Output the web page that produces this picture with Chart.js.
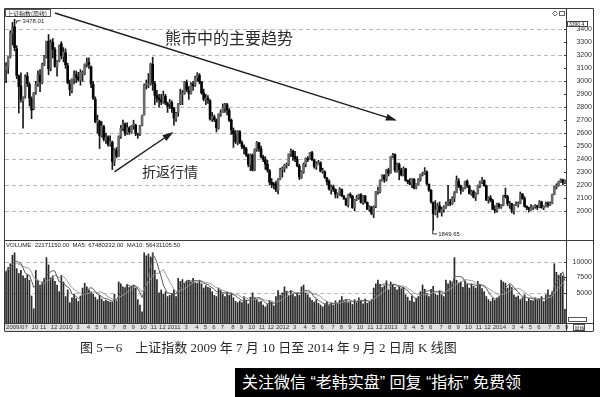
<!DOCTYPE html>
<html>
<head>
<meta charset="utf-8">
<script src="https://cdn.jsdelivr.net/npm/chart.js@4.4.1/dist/chart.umd.min.js"></script>
<style>
  body { margin: 0; background: #fff; width: 600px; height: 397px; overflow: hidden; position: relative; }
  #price { position: absolute; left: 0; top: 0; }
  #vol { position: absolute; left: 0; top: 230px; }
  #caption { position: absolute; left: 80px; top: 340px; font: 13px "Liberation Serif", "Noto Sans CJK SC"; color: #2a2a2a; white-space: nowrap; line-height: 16px; }
  #mark { position: absolute; left: 235px; top: 368px; width: 365px; height: 29px; background: #000; color: #fff;
          font: 16px "Liberation Sans", "Noto Sans CJK SC"; line-height: 29px; padding-left: 7px; box-sizing: border-box; white-space: nowrap; overflow: hidden; }
</style>
</head>
<body>
<canvas id="price" width="600" height="250"></canvas>
<canvas id="vol" width="600" height="102"></canvas>
<div id="caption">图 5－6&emsp;上证指数 2009 年 7 月 10 日至 2014 年 9 月 2 日周 K 线图</div>
<div id="mark">关注微信 “老韩实盘” 回复 “指标” 免费领</div>
<script>
// weekly candles, 2009-07-10 .. 2014-09-02
const opens = [
  3090,3110,3190,3370,3420,3250,3040,2965,2850,2885, 3040,2975,2865,2790,2915,2980,3050,2990,3130,3190,
  3310,3100,3300,3245,3110,3155,3290,3190,3220,3120, 2980,2930,3020,3050,3030,3010,3060,3060,3130,3145,
  3110,2975,2860,2680,2690,2580,2650,2550,2570,2510, 2530,2380,2470,2420,2575,2640,2670,2600,2640,2610,
  2660,2660,2595,2590,2660,2740,2975,2970,2980,3130, 2980,2890,2870,2855,2840,2885,2830,2825,2835,2790,
  2710,2760,2830,2900,2910,2990,2930,2905,2980,2970, 3030,3045,2995,2910,2860,2870,2850,2710,2725,2700,
  2640,2745,2760,2795,2820,2775,2700,2620,2590,2530, 2610,2525,2495,2480,2430,2360,2430,2315,2475,2525,
  2480,2415,2395,2360,2310,2220,2200,2210,2160,2245, 2320,2330,2350,2360,2440,2460,2420,2400,2345,2260,
  2300,2360,2405,2400,2450,2390,2340,2365,2370,2305, 2300,2255,2230,2165,2185,2165,2125,2130,2165,2110,
  2090,2045,2125,2115,2025,2090,2105,2125,2065,2115, 2065,2015,2030,1975,2035,2150,2150,2235,2275,2245,
  2315,2295,2420,2435,2310,2360,2315,2275,2325,2235, 2220,2205,2245,2175,2205,2245,2280,2285,2300,2205,
  2160,2065,1980,2000,2040,1990,2010,2030,2055,2065, 2055,2100,2140,2230,2190,2160,2175,2230,2190,2130,
  2150,2105,2135,2195,2220,2235,2195,2085,2100,2080, 2010,2005,2050,2030,2045,2115,2110,2050,2055,2000,
  2045,2045,2060,2130,2095,2035,2025,2010,2025,2035, 2040,2030,2070,2025,2035,2060,2045,2060,2130,2185,
  2195,2225,2240,2220
];
const highs = [
  3145,3190,3390,3454,3478.01,3275,3050,3065,2880,3050, 3068,2990,2880,2915,3000,3080,3090,3140,3200,3310,
  3361,3320,3330,3260,3160,3280,3306,3260,3250,3140, 3010,3020,3080,3080,3070,3090,3080,3135,3180,3181,
  3120,3000,2880,2740,2700,2690,2660,2600,2580,2580, 2540,2480,2490,2580,2660,2700,2680,2680,2650,2660,
  2700,2670,2600,2660,2740,2980,3010,3060,3140,3186, 3000,2930,2900,2900,2925,2900,2840,2860,2850,2800,
  2760,2830,2940,2930,3000,3010,2960,2990,3000,3040, 3067,3060,3000,2940,2900,2890,2860,2760,2740,2710,
  2750,2780,2826,2830,2830,2790,2710,2640,2620,2620, 2620,2540,2510,2490,2440,2440,2440,2480,2536,2530,
  2500,2430,2420,2390,2320,2250,2220,2230,2250,2330, 2340,2360,2370,2440,2478,2470,2460,2420,2360,2310,
  2370,2410,2420,2453,2460,2400,2380,2390,2380,2330, 2310,2260,2240,2200,2200,2170,2140,2180,2170,2120,
  2100,2130,2140,2120,2090,2120,2130,2135,2120,2120, 2070,2040,2035,2040,2150,2185,2240,2280,2280,2320,
  2330,2420,2444,2440,2370,2370,2330,2340,2330,2240, 2250,2250,2250,2210,2250,2285,2300,2335,2310,2210,
  2165,2070,2080,2060,2070,2030,2040,2070,2198,2090, 2110,2150,2270,2250,2200,2180,2230,2240,2200,2160,
  2160,2140,2200,2230,2260,2240,2200,2110,2120,2090, 2040,2060,2060,2050,2120,2177,2120,2075,2060,2050,
  2070,2070,2146,2135,2110,2040,2030,2050,2040,2050, 2045,2080,2075,2040,2070,2070,2070,2130,2190,2210,
  2230,2248,2245,2240
];
const lows = [
  2990,3060,3180,3280,3235,3020,2755,2840,2639,2870, 2960,2810,2712,2780,2900,2960,2920,2980,3120,3180,
  3050,3080,3180,3110,3039,3150,3172,3150,3100,2980, 2890,2910,2980,2990,3000,2970,3000,3050,3110,3100,
  2950,2860,2680,2600,2481,2570,2540,2520,2500,2500, 2319,2350,2410,2420,2560,2620,2580,2590,2590,2600,
  2630,2580,2560,2580,2655,2740,2940,2950,2970,2930, 2820,2840,2800,2820,2830,2820,2760,2790,2760,2661,
  2690,2730,2820,2820,2900,2920,2860,2900,2930,2960, 3000,2980,2900,2850,2820,2830,2700,2690,2690,2610,
  2630,2730,2760,2760,2740,2690,2590,2490,2520,2510, 2520,2480,2440,2420,2340,2310,2307,2310,2460,2460,
  2410,2380,2320,2300,2200,2180,2170,2148,2132,2240, 2260,2300,2330,2350,2420,2390,2380,2340,2242,2250,
  2290,2340,2380,2400,2390,2330,2320,2360,2300,2290, 2250,2200,2160,2130,2150,2100,2100,2120,2110,2090,
  2040,2030,2100,2020,2000,2080,2090,2060,2050,2060, 2010,1995,1970,1949,2025,2130,2140,2230,2220,2230,
  2270,2290,2410,2300,2300,2240,2270,2270,2230,2210, 2200,2180,2170,2170,2200,2230,2270,2280,2200,2150,
  2060,1849.65,1970,1950,1990,1960,1990,2020,2040,2040, 2050,2070,2140,2180,2130,2150,2170,2180,2130,2120,
  2100,2080,2130,2180,2210,2190,2080,2060,2070,2010, 1985,1990,2020,2020,2040,2100,2040,2020,1985,1975,
  2040,2030,2055,2090,2030,2010,1991,2005,2010,2020, 2010,2025,2020,2010,2030,2030,2040,2055,2125,2170,
  2190,2220,2200,2210
];
const closes = [
  3113,3189,3372,3412,3260,3046,2960,2861,2880,3033, 2981,2870,2779,2911,2975,3050,2995,3130,3187,3308,
  3096,3300,3247,3114,3153,3277,3196,3224,3128,2989, 2935,3018,3051,3031,3013,3068,3060,3130,3143,3130,
  2980,2870,2688,2697,2583,2655,2553,2569,2514,2535, 2382,2470,2424,2573,2637,2672,2598,2642,2611,2655,
  2663,2598,2588,2655,2738,2971,2975,2979,3129,2985, 2891,2871,2858,2842,2885,2833,2808,2838,2791,2715,
  2752,2827,2899,2905,2993,2937,2906,2977,2967,3030, 3050,2999,2911,2863,2871,2858,2709,2728,2705,2642,
  2746,2759,2797,2820,2778,2701,2626,2593,2534,2612, 2528,2497,2483,2433,2359,2431,2317,2473,2528,2481,
  2417,2397,2361,2315,2224,2204,2199,2163,2244,2319, 2330,2351,2357,2439,2461,2420,2404,2349,2263,2303,
  2359,2406,2396,2452,2394,2344,2365,2373,2306,2306, 2260,2225,2170,2185,2168,2128,2132,2168,2115,2092,
  2047,2127,2120,2026,2086,2104,2128,2066,2117,2069, 2015,2031,1980,2033,2150,2153,2233,2276,2243,2317,
  2292,2419,2432,2314,2359,2318,2278,2328,2236,2225, 2206,2245,2177,2205,2247,2283,2288,2301,2211,2162,
  2073,1979,2007,2039,1992,2010,2029,2052,2068,2057, 2098,2139,2236,2191,2161,2174,2228,2193,2133,2149,
  2106,2135,2197,2220,2238,2196,2084,2102,2083,2013, 2004,2054,2033,2044,2115,2113,2056,2057,2004,2047,
  2046,2058,2130,2097,2036,2026,2011,2026,2034,2039, 2029,2070,2025,2036,2059,2047,2059,2126,2185,2194,
  2226,2240,2217,2235
];
const volumes = [
  8500,9200,9800,11200,11600,9000,8200,8700,7800,7400, 8000,7100,4500,2400,8700,7100,6300,6800,7400,10800,
  9600,7500,7800,6900,6300,5200,7900,6800,4400,5500, 3400,4200,4800,4100,3600,4500,5800,6600,6000,5500,
  5200,4800,4300,3900,4600,4000,3600,3800,3600,3500, 3500,4800,3700,6800,6500,6000,5800,6400,5900,6100,
  6300,5800,3900,3000,1900,11600,11100,11400,10900,11600, 8700,7200,5000,5500,4800,5200,4400,4600,4900,5500,
  4400,7400,6900,7200,6600,6900,7100,6800,7400,6700, 6600,7100,6500,5800,6200,5900,5800,5200,4600,4400,
  5800,5400,4800,4400,5000,4600,5000,4200,3600,3400, 3700,3400,4400,3800,3200,4300,5000,4200,3900,3500,
  3600,3000,2700,3100,3800,3500,2900,4400,5400,4600, 5000,6000,5200,4600,5400,4800,4400,5000,4600,6000,
  6300,5000,4700,4200,3800,3500,3900,3300,3000,2700, 3100,3600,2900,3400,3000,3700,3300,3800,4400,3600,
  3900,3400,3600,3100,3900,3400,4200,3700,3200,4000, 3300,3500,3900,5800,6500,7100,6400,5900,6200,7000,
  5500,6800,6400,5900,5500,6000,5700,5900,4700,4300, 3700,4500,3500,4100,4400,5200,6300,5600,4900,4400,
  5600,6100,4800,4600,5300,4700,4400,7100,6500,7000, 6800,10800,7100,6600,6800,5900,7000,6400,5800,6500,
  6100,5800,6900,6400,5700,5200,4400,3900,3600,4100, 3800,4200,4400,7100,6800,6600,5800,6300,5900,4700,
  4300,4500,3900,4200,4700,3600,4100,3800,3700,4200, 3800,4000,4400,3600,4700,5500,4600,5200,9800,8400,
  7900,8200,7800,2300
];
const priceGridLines = [2000, 2200, 2400, 2600, 2800, 3000, 3200, 3400];
const volumeTicks = [5000, 7500, 10000];
const volumeGridLines = [5000, 10000];

// week dates spread between the first and last bar
const firstDay = new Date(2009, 6, 10), lastDay = new Date(2014, 8, 2);
const weekLabels = closes.map((c, i) => {
  const d = new Date(firstDay.getTime() + (lastDay - firstDay) * i / (closes.length - 1));
  return d.getFullYear() + "/" + String(d.getMonth() + 1).padStart(2, "0");
});

function movingAvg (vals, n) {
  return vals.map((v, i) => {
    const part = vals.slice(Math.max(0, i - n + 1), i + 1);
    return part.reduce((s, x) => s + x, 0) / part.length;
  });
}

const CJK = '"Noto Sans CJK SC"';

function hline (ctx, x1, x2, y) { ctx.beginPath(); ctx.moveTo(x1, y); ctx.lineTo(x2, y); ctx.stroke(); }
function vline (ctx, x, y1, y2) { ctx.beginPath(); ctx.moveTo(x, y1); ctx.lineTo(x, y2); ctx.stroke(); }

function arrow (ctx, x1, y1, x2, y2) {
  ctx.beginPath(); ctx.moveTo(x1, y1); ctx.lineTo(x2, y2); ctx.stroke();
  const a = Math.atan2(y2 - y1, x2 - x1), len = 9, w = 3.5;
  ctx.beginPath();
  ctx.moveTo(x2 + 2 * Math.cos(a), y2 + 2 * Math.sin(a));
  ctx.lineTo(x2 - len * Math.cos(a) + w * Math.sin(a), y2 - len * Math.sin(a) - w * Math.cos(a));
  ctx.lineTo(x2 - len * Math.cos(a) - w * Math.sin(a), y2 - len * Math.sin(a) + w * Math.cos(a));
  ctx.closePath(); ctx.fill();
}

const priceDecor = {
  id: "priceDecor",
  beforeDatasetsDraw (chart) {
    const { ctx, chartArea: a, scales: { y } } = chart;
    ctx.save();
    ctx.strokeStyle = "#b8b8b8"; ctx.lineWidth = 1; ctx.setLineDash([4, 3]);
    priceGridLines.forEach(v => hline(ctx, a.left, a.right, Math.round(y.getPixelForValue(v)) + 0.5));
    ctx.restore();
  },
  afterDraw (chart) {
    const { ctx, chartArea: a, scales: { x, y } } = chart;
    ctx.save();
    // frame
    ctx.strokeStyle = "#3a3a3a"; ctx.lineWidth = 1;
    hline(ctx, 4.5, 593.5, 8.5);
    hline(ctx, 4.5, 593.5, a.bottom + 0.5);
    vline(ctx, 4.5, 8.5, a.bottom);
    vline(ctx, a.right + 0.5, 8.5, a.bottom);
    vline(ctx, 593.5, 8.5, a.bottom);
    y.ticks.forEach(t => hline(ctx, a.right - 2, a.right, Math.round(y.getPixelForValue(t.value)) + 0.5));

    // title box
    ctx.fillStyle = "#fff"; ctx.fillRect(5, 9, 46, 8);
    ctx.strokeStyle = "#555"; ctx.strokeRect(5.5, 9.5, 45, 7);
    ctx.fillStyle = "#222"; ctx.font = "6px " + CJK; ctx.textBaseline = "middle";
    ctx.fillText("上证指数(周线)", 7, 13.5);

    // right header box
    ctx.fillStyle = "#fff"; ctx.fillRect(567, 21, 21, 6);
    ctx.strokeStyle = "#444"; ctx.strokeRect(567.5, 21.5, 20, 5);
    ctx.fillStyle = "#222"; ctx.font = "5px Liberation Sans";
    ctx.fillText("3390.4", 569, 24.5);

    // small icons
    ctx.strokeStyle = "#666";
    ctx.beginPath(); ctx.moveTo(555, 11); ctx.lineTo(557.5, 13.5); ctx.lineTo(555, 16); ctx.lineTo(552.5, 13.5); ctx.closePath(); ctx.stroke();
    ctx.strokeRect(559.5, 11.5, 5, 4);

    // extreme labels
    const hi = highs.indexOf(Math.max(...highs));
    const lo = lows.indexOf(Math.min(...lows));
    ctx.strokeStyle = "#333"; ctx.fillStyle = "#222"; ctx.font = "6px Liberation Sans";
    let px = x.getPixelForValue(hi), py = y.getPixelForValue(highs[hi]);
    ctx.beginPath(); ctx.moveTo(px + 2, py + 4); ctx.lineTo(px + 2, py + 1.5); ctx.lineTo(px + 6, py + 1.5); ctx.stroke();
    ctx.fillText(highs[hi].toFixed(2), px + 8, py + 2);
    px = x.getPixelForValue(lo); py = y.getPixelForValue(lows[lo]);
    ctx.beginPath(); ctx.moveTo(px - 0.5, py); ctx.lineTo(px - 0.5, py + 3.5); ctx.lineTo(px + 4, py + 3.5); ctx.stroke();
    ctx.fillText(lows[lo].toFixed(2), px + 5, py + 4);

    // annotations
    ctx.strokeStyle = "#1e1e1e"; ctx.fillStyle = "#1e1e1e"; ctx.lineWidth = 1.4;
    arrow(ctx, x.getPixelForValue(23), y.getPixelForValue(3527), x.getPixelForValue(183), y.getPixelForValue(2702));
    arrow(ctx, x.getPixelForValue(51), y.getPixelForValue(2301), x.getPixelForValue(78), y.getPixelForValue(2601));
    ctx.fillStyle = "#2a2a2a"; ctx.font = "16px " + CJK;
    ctx.fillText("熊市中的主要趋势", 165, 38);
    ctx.font = "14px " + CJK;
    ctx.fillText("折返行情", 142, 172);
    ctx.restore();
  }
};

const volDecor = {
  id: "volDecor",
  beforeDraw (chart) {
    const { ctx, chartArea: a } = chart;
    ctx.save();
    ctx.fillStyle = "#e2e2e2";
    ctx.fillRect(a.left, a.bottom, a.right - a.left, 8);
    ctx.restore();
  },
  beforeDatasetsDraw (chart) {
    const { ctx, chartArea: a, scales: { y } } = chart;
    ctx.save();
    ctx.strokeStyle = "#b8b8b8"; ctx.lineWidth = 1; ctx.setLineDash([4, 3]);
    volumeGridLines.forEach(v => hline(ctx, a.left, a.right, Math.round(y.getPixelForValue(v)) + 0.5));
    ctx.restore();
  },
  afterDraw (chart) {
    const { ctx, chartArea: a, scales: { y } } = chart;
    ctx.save();
    ctx.strokeStyle = "#3a3a3a"; ctx.lineWidth = 1;
    vline(ctx, 4.5, a.top, a.bottom + 8);
    vline(ctx, a.right + 0.5, a.top, a.bottom + 8);
    vline(ctx, 593.5, a.top, a.bottom + 8);
    hline(ctx, 4.5, 593.5, a.bottom + 0.5);
    hline(ctx, 4.5, 593.5, a.bottom + 8.5);
    y.ticks.forEach(t => hline(ctx, a.right - 2, a.right, Math.round(y.getPixelForValue(t.value)) + 0.5));

    ctx.fillStyle = "#222"; ctx.font = "6px Liberation Sans"; ctx.textBaseline = "middle";
    ctx.fillText("VOLUME: 22171150.00  MA5: 67480232.00  MA10: 56431105.50", 6, a.top + 5);

    // bottom right boxes
    ctx.strokeStyle = "#555";
    ctx.fillStyle = "#fff"; ctx.fillRect(568, a.bottom - 6, 19, 5);
    ctx.strokeRect(568.5, a.bottom - 5.5, 18, 4);
    ctx.fillRect(573, a.bottom + 1, 12, 7);
    ctx.strokeRect(573.5, a.bottom + 1.5, 11, 6);
    ctx.fillStyle = "#222"; ctx.font = "5px " + CJK;
    ctx.fillText("周线", 574.5, a.bottom + 4.8);
    ctx.restore();
  }
};

new Chart(document.getElementById("price"), {
  type: "bar",
  data: {
    labels: weekLabels,
    datasets: [
      {
        data: lows.map((l, i) => [l, highs[i]]),
        backgroundColor: "#1a1a1a",
        barThickness: 1,
        grouped: false,
        order: 2
      },
      {
        data: opens.map((o, i) => [o, closes[i]]),
        backgroundColor: opens.map((o, i) => closes[i] >= o ? "#6a6a6a" : "#050505"),
        barThickness: 2,
        minBarLength: 1,
        grouped: false,
        order: 1
      }
    ]
  },
  options: {
    responsive: false,
    animation: false,
    events: [],
    layout: { padding: { left: 5, top: 10, right: 8, bottom: 10 } },
    plugins: { legend: { display: false }, tooltip: { enabled: false } },
    scales: {
      x: { display: false },
      y: {
        position: "right",
        min: 1776,
        max: 3550,
        afterFit (s) { s.width = 26; s.paddingTop = 0; s.paddingBottom = 0; },
        afterBuildTicks (s) { s.ticks = s.ticks.filter(t => t.value % 100 === 0 && t.value >= 2000 && t.value <= 3400); },
        ticks: {
          stepSize: 100,
          crossAlign: "far",
          padding: 4,
          color: "#333",
          font: { size: 7, family: "Liberation Sans" },
          callback: v => String(v)
        },
        grid: { display: false, drawTicks: false },
        border: { display: false }
      }
    }
  },
  plugins: [priceDecor]
});

new Chart(document.getElementById("vol"), {
  type: "bar",
  data: {
    labels: weekLabels,
    datasets: [
      { type: "line", data: movingAvg(volumes, 5), borderColor: "#5a5a5a", borderWidth: 1, pointRadius: 0, order: 0 },
      { type: "line", data: movingAvg(volumes, 10), borderColor: "#9a9a9a", borderWidth: 1, pointRadius: 0, order: 0 },
      { data: volumes, backgroundColor: "#2a2a2a", barPercentage: 0.8, categoryPercentage: 1, order: 1 }
    ]
  },
  options: {
    responsive: false,
    animation: false,
    events: [],
    layout: { padding: { left: 5, top: 10, right: 8, bottom: 0 } },
    plugins: { legend: { display: false }, tooltip: { enabled: false } },
    scales: {
      x: {
        afterFit (s) { s.height = 9; s.paddingLeft = 0; s.paddingRight = 0; },
        grid: { display: false, drawTicks: false },
        border: { display: false },
        ticks: {
          autoSkip: false,
          maxRotation: 0,
          align: "start",
          padding: 1,
          color: "#333",
          font: { size: 6, family: "Liberation Sans" },
          callback (v, i) {
            const cur = weekLabels[i], prev = i ? weekLabels[i - 1] : "";
            if (i === 0) return cur;
            if (i < 10 || cur === prev) return "";
            const [yr, m] = cur.split("/");
            if (m === "01") return yr;
            if (m === "02") return "";
            return String(+m);
          }
        }
      },
      y: {
        position: "right",
        min: 0,
        max: 13650,
        afterFit (s) { s.width = 26; s.paddingTop = 0; s.paddingBottom = 0; },
        afterBuildTicks (s) { s.ticks = volumeTicks.map(v => ({ value: v })); },
        ticks: {
          crossAlign: "far",
          padding: 4,
          color: "#333",
          font: { size: 7, family: "Liberation Sans" },
          callback: v => String(v)
        },
        grid: { display: false, drawTicks: false },
        border: { display: false }
      }
    }
  },
  plugins: [volDecor]
});
</script>
</body>
</html>
